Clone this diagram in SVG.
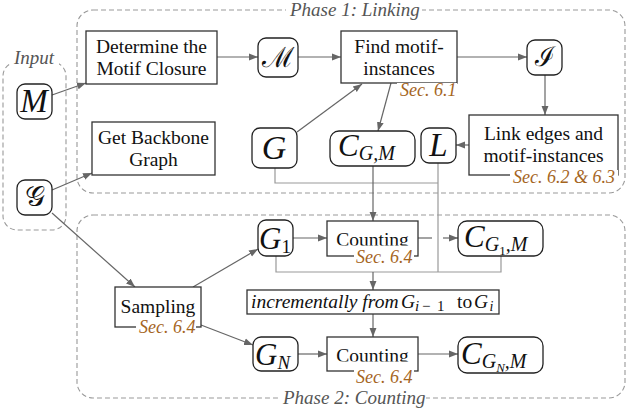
<svg xmlns="http://www.w3.org/2000/svg" width="627" height="417" viewBox="0 0 627 417">
<defs>
<marker id="a" viewBox="0 0 10 10" refX="10" refY="5" markerWidth="9" markerHeight="9" markerUnits="userSpaceOnUse" orient="auto"><path d="M0,1.2 L10,5 L0,8.8 z" fill="#666"/></marker>
<clipPath id="c1"><rect x="327" y="221" width="91" height="24.5"/></clipPath>
<clipPath id="c2"><rect x="327" y="337" width="91" height="24.5"/></clipPath>
</defs>
<style>
.grp{fill:none;stroke:#999;stroke-width:1.1;stroke-dasharray:5 3}
.ph{font-family:'Liberation Serif','DejaVu Serif',serif;font-style:italic;font-size:19px;fill:#555}
.box{fill:#fff;stroke:#333;stroke-width:1.3}
.rn{fill:#fff;stroke:#222;stroke-width:1.3}
.t{font-family:'Liberation Serif','DejaVu Serif',serif;font-size:19.5px;fill:#111;text-anchor:middle}
.m{font-family:'Liberation Serif','DejaVu Serif',serif;font-style:italic;fill:#111}
.s{font-family:'Liberation Serif','DejaVu Serif',serif;fill:#111}
.sec{font-family:'Liberation Serif','DejaVu Serif',serif;font-style:italic;font-size:18px;fill:#a5651e}
.e{fill:none;stroke:#666;stroke-width:1.2}
.l{fill:none;stroke:#999;stroke-width:1.2}
.ea{fill:none;stroke:#666;stroke-width:1.2;marker-end:url(#a)}
.bg{fill:#fff}
</style>
<g id="groups">
<rect class="grp" x="3" y="62" width="63" height="168" rx="14"/>
<rect class="bg" x="11" y="48" width="48" height="20"/>
<text class="ph" x="14" y="64">Input</text>
<rect class="grp" x="77" y="10" width="548" height="183" rx="16"/>
<rect class="bg" x="286" y="0" width="136" height="18"/>
<text class="ph" x="290" y="16">Phase 1: Linking</text>
<rect class="grp" x="77" y="215" width="548" height="183" rx="16"/>
<rect class="bg" x="279" y="390" width="147" height="18"/>
<text class="ph" x="283" y="404">Phase 2: Counting</text>
</g>
<g id="connectors">
<line class="ea" x1="52" y1="95" x2="86" y2="83"/>
<line class="ea" x1="52" y1="190" x2="92" y2="173"/>
<line class="ea" x1="217" y1="57" x2="258" y2="57"/>
<line class="ea" x1="298" y1="57" x2="341" y2="57"/>
<line class="ea" x1="457" y1="57" x2="527" y2="57"/>
<line class="ea" x1="545" y1="75" x2="545" y2="115"/>
<line class="ea" x1="469" y1="145" x2="456" y2="145"/>
<line class="ea" x1="297" y1="132" x2="362" y2="84"/>
<line class="ea" x1="391" y1="83" x2="378" y2="131"/>
<polyline class="l" points="275,168 275,183 438,183"/>
<line class="l" x1="438" y1="163" x2="438" y2="272"/>
<line class="ea" x1="373" y1="166" x2="373" y2="221"/>
<polyline class="l" points="276,256 276,272 501,272 501,256"/>
<line class="ea" x1="373" y1="272" x2="373" y2="290"/>
<line class="ea" x1="293" y1="238" x2="327" y2="238"/>
<line class="e" x1="418" y1="238" x2="432" y2="238"/>
<line class="ea" x1="443" y1="238" x2="458" y2="238"/>
<line class="ea" x1="373" y1="314" x2="373" y2="337"/>
<line class="ea" x1="298" y1="354" x2="327" y2="354"/>
<line class="ea" x1="418" y1="354" x2="458" y2="354"/>
<line class="ea" x1="52" y1="213" x2="135" y2="287"/>
<line class="ea" x1="193" y1="287" x2="258" y2="249"/>
<line class="ea" x1="201" y1="325" x2="253" y2="345"/>
</g>
<g id="n-M">
<rect class="rn" x="17" y="84" width="35" height="35" rx="8"/>
<text class="m" x="34" y="112" font-size="33" text-anchor="middle">M</text>
</g>
<g id="n-calG">
<rect class="rn" x="17" y="180" width="35" height="35" rx="8"/>
<text class="s" x="34.5" y="206" font-size="28" text-anchor="middle">𝒢</text>
</g>
<g id="n-determine">
<rect class="box" x="86" y="31" width="131" height="53"/>
<text class="t" x="151.5" y="53">Determine the</text>
<text class="t" x="151.5" y="75">Motif Closure</text>
</g>
<g id="n-backbone">
<rect class="box" x="92" y="122" width="123" height="53"/>
<text class="t" x="153.5" y="144">Get Backbone</text>
<text class="t" x="153.5" y="166">Graph</text>
</g>
<g id="n-calM">
<rect class="rn" x="258" y="38" width="40" height="39" rx="8"/>
<text class="s" x="278" y="67" font-size="28" text-anchor="middle">ℳ</text>
</g>
<g id="n-G">
<rect class="rn" x="252" y="128" width="45" height="40" rx="8"/>
<text class="m" x="274" y="159" font-size="34" text-anchor="middle">G</text>
</g>
<g id="n-find">
<rect class="box" x="341" y="31" width="116" height="52"/>
<text class="t" x="399" y="53">Find motif-</text>
<text class="t" x="399" y="75">instances</text>
<rect class="bg" x="397" y="83" width="60" height="17"/>
<text class="sec" x="400" y="96">Sec. 6.1</text>
</g>
<g id="n-calI">
<rect class="rn" x="527" y="40" width="35" height="35" rx="8"/>
<text class="s" x="544.5" y="66" font-size="27" text-anchor="middle">ℐ</text>
</g>
<g id="n-link">
<rect class="box" x="469" y="115" width="149" height="60"/>
<text class="t" x="543.5" y="140">Link edges and</text>
<text class="t" x="543.5" y="162">motif-instances</text>
<rect class="bg" x="510" y="170" width="108" height="17"/>
<text class="sec" x="513" y="183">Sec. 6.2 &amp; 6.3</text>
</g>
<g id="n-CGM">
<rect class="rn" x="330" y="131" width="85" height="35" rx="9"/>
<text class="m" x="338" y="156" font-size="31">C<tspan font-size="20" dy="4">G,M</tspan></text>
</g>
<g id="n-L">
<rect class="rn" x="421" y="128" width="35" height="35" rx="8"/>
<text class="m" x="438.5" y="156" font-size="33" text-anchor="middle">L</text>
</g>
<g id="n-G1">
<rect class="rn" x="258" y="220" width="35" height="36" rx="8"/>
<text class="m" x="259" y="249" font-size="31">G<tspan font-style="normal" font-size="19" dy="4">1</tspan></text>
</g>
<g id="n-count1">
<rect class="box" x="327" y="221" width="91" height="35"/>
<text class="t" x="372.5" y="246" font-size="20" clip-path="url(#c1)">Counting</text>
<rect class="bg" x="354" y="250" width="60" height="16"/>
<text class="sec" x="356" y="263">Sec. 6.4</text>
</g>
<g id="n-CG1M">
<rect class="rn" x="458" y="221" width="85" height="35" rx="9"/>
<text class="m" x="464" y="247" font-size="31">C<tspan font-size="20" dy="4">G</tspan><tspan font-style="normal" font-size="13" dy="4">1</tspan><tspan font-size="20" dy="-4">,M</tspan></text>
</g>
<g id="n-incr">
<rect class="box" x="247" y="290" width="252" height="24"/>
<text y="308" font-family="'Liberation Serif','DejaVu Serif',serif" font-size="19.5" fill="#111"><tspan x="251" font-style="italic">incrementally from</tspan><tspan x="401" font-style="italic">G</tspan><tspan x="415" y="311" font-size="15" font-style="italic">i</tspan><tspan x="422" y="311" font-size="15">−</tspan><tspan x="437" y="311" font-size="15">1</tspan><tspan x="457" y="308">to</tspan><tspan x="474" font-style="italic">G</tspan><tspan x="489.5" y="311" font-style="italic" font-size="14">i</tspan></text>
</g>
<g id="n-sampling">
<rect class="box" x="115" y="287" width="86" height="40"/>
<text class="t" x="158" y="313" font-size="19">Sampling</text>
<rect class="bg" x="136" y="320" width="60" height="17"/>
<text class="sec" x="139" y="333">Sec. 6.4</text>
</g>
<g id="n-GN">
<rect class="rn" x="253" y="337" width="45" height="34" rx="8"/>
<text class="m" x="255" y="365" font-size="31">G<tspan font-size="19" dy="4">N</tspan></text>
</g>
<g id="n-count2">
<rect class="box" x="327" y="337" width="91" height="34"/>
<text class="t" x="372.5" y="362" font-size="20" clip-path="url(#c2)">Counting</text>
<rect class="bg" x="354" y="370" width="60" height="16"/>
<text class="sec" x="356" y="383">Sec. 6.4</text>
</g>
<g id="n-CGNM">
<rect class="rn" x="458" y="337" width="85" height="36" rx="9"/>
<text class="m" x="461" y="364" font-size="31">C<tspan font-size="20" dy="4">G</tspan><tspan font-size="13" dy="4">N</tspan><tspan font-size="20" dy="-4">,M</tspan></text>
</g>
</svg>
